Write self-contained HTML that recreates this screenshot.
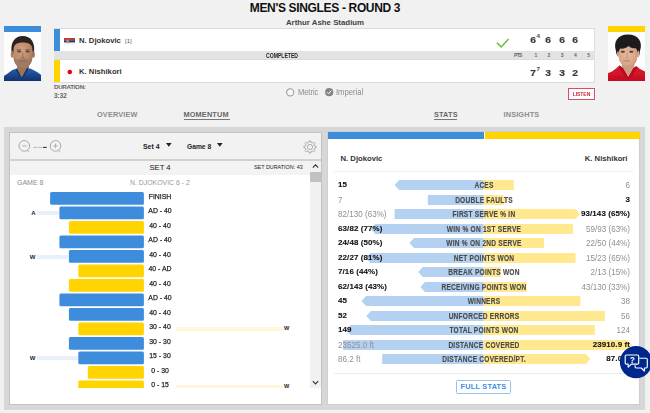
<!DOCTYPE html>
<html><head><meta charset="utf-8">
<style>
*{margin:0;padding:0;box-sizing:border-box}
html,body{width:650px;height:413px;overflow:hidden;background:#f1f1f1;font-family:"Liberation Sans",sans-serif;color:#222}
.a{position:absolute;white-space:nowrap;line-height:1}
.b{font-weight:bold}
#title{left:0;width:650px;top:2.4px;text-align:center;font-size:12px;font-weight:bold;color:#111;letter-spacing:-0.34px}
#venue{left:0;width:650px;top:19.1px;text-align:center;font-size:7.85px;font-weight:bold;color:#444}
.row{left:54px;width:541px;height:24px;background:#fff;border:1px solid #dcdcdc}
#mid{left:54px;width:541px;top:51px;height:9px;background:#e3e3e3}
.stripe{left:54px;width:6px}
.pname{font-size:7.7px;font-weight:bold;color:#333}
.sc{font-size:9.4px;font-weight:bold;color:#3c3c3c;width:14px;text-align:center;transform:scaleX(1.1);-webkit-text-stroke:.2px #3c3c3c}
.sup{font-size:6.2px;font-weight:bold;color:#444}
.hd{font-size:5px;color:#666;font-weight:bold;width:14px;text-align:center;top:52.5px}
.tab{font-size:7.3px;font-weight:bold;color:#8c8c8c;letter-spacing:.17px;top:111px}
.ul{height:1.5px;background:#777;top:118.5px}
#cont{left:4px;top:127px;width:641px;height:283px;background:#d7d7d7}
#lp{left:9px;top:132px;width:313px;height:273px;background:#fff;border:1px solid #c2c2c2;overflow:hidden}
#rp{left:327px;top:131px;width:313px;height:274px;background:#fff;border:1px solid #cfcfcf;overflow:hidden}
.lbl{font-size:8px;color:#222;width:40px;text-align:center;left:140px;transform:scaleX(.86);-webkit-text-stroke:.25px #222}
.mb{height:13px;border-radius:1.5px}
.blue{background:#3e8ddd}
.yel{background:#ffd400}
.sl{font-size:8.4px;font-weight:bold;color:#4a4a4a;text-align:center;width:160px;left:403.6px;transform:scaleX(.785);letter-spacing:.3px;-webkit-text-stroke:.15px #4a4a4a}
.v{font-size:8.4px;color:#909090;transform:scaleX(.965)}
.vb{font-size:7.9px;color:#111;font-weight:bold;letter-spacing:.1px;transform:scaleX(1.01);-webkit-text-stroke:.1px #111}
.sbl{fill:#b4d1f1}
.sye{fill:#ffe88e}
</style></head><body><div id="wrap" style="position:absolute;left:0;top:0;width:650px;height:413px">
<div class="a" id="title">MEN'S SINGLES - ROUND 3</div>
<div class="a" id="venue">Arthur Ashe Stadium</div>

<!-- left photo -->
<div class="a" style="left:4px;top:26px;width:37px;height:6px;background:#3e8ddd"></div>
<div class="a" id="ph1" style="left:4px;top:32px;width:37px;height:49px;background:#fff;overflow:hidden"><svg width="37" height="49" viewBox="0 0 37 49" style="display:block"><defs><filter id="f1" x="-10%" y="-10%" width="120%" height="120%"><feGaussianBlur stdDeviation=".65"/></filter>
<radialGradient id="g1" cx=".42" cy=".3" r=".75"><stop offset="0" stop-color="#d3a283"/><stop offset=".55" stop-color="#bd8a6a"/><stop offset="1" stop-color="#9a6d54"/></radialGradient>
<linearGradient id="s1" x1="0" y1="0" x2="0" y2="1"><stop offset="0" stop-color="#2a62b4"/><stop offset=".5" stop-color="#1b4890"/><stop offset="1" stop-color="#0f2d63"/></linearGradient></defs>
<rect width="37" height="49" fill="#fdfdfd"/>
<g filter="url(#f1)">
<path d="M-1 50V44.6L3 42L8.3 38L13 36.4L17.8 45.5L23 35.8L27.5 37L33 40L38 43.4V50Z" fill="url(#s1)"/>
<path d="M13 30H25V36.5L22 40L17.8 46L14.5 40L13 36.5Z" fill="#a17257"/>
<path d="M7.6 20.5C6.2 11 10.5 4 18.6 4C27 4 31.4 10.5 29.9 20.5L28.5 22H9.2Z" fill="#2a2320"/>
<ellipse cx="8.3" cy="22.4" rx="1.5" ry="3.3" fill="#b07c60"/><ellipse cx="29.3" cy="22.4" rx="1.5" ry="3.3" fill="#a06f55"/>
<path d="M9.5 17.5C9.5 12.5 13 10.6 18.9 10.6S28.4 12.5 28.4 17.5V25C28.4 32 23.5 36 18.9 36S9.5 32 9.5 25Z" fill="url(#g1)"/>
<path d="M9.6 24C10 32.4 14 36 18.9 36S27.9 32.4 28.3 24C27 28 25.6 28.6 23.4 27.4C21.5 26.6 16.5 26.6 14.4 27.4C12.4 28.6 10.8 28 9.6 24Z" fill="#9a7c68"/>
<path d="M14.4 29.4C16 28 21.6 28 23 29.4C21.6 30.2 16 30.2 14.4 29.4Z" fill="#9c6a5a"/>
<ellipse cx="15.2" cy="19.6" rx="2.2" ry="1" fill="#5c4436"/><ellipse cx="23.6" cy="19.6" rx="2.2" ry="1" fill="#5c4436"/>
<path d="M12.6 17.8H17.4M21.4 17.8H26.2" stroke="#6b4e3c" stroke-width=".8"/>
<path d="M18.6 20.5V25" stroke="#a97a5c" stroke-width="1.4"/>
<path d="M16.8 25.6H20.6" stroke="#8e604a" stroke-width=".8"/>
<path d="M13 36.4L17.8 45.5L23 35.8L24.6 37.6L17.9 48L11.4 37.8Z" fill="#143670"/>
</g></svg>
</div>
<!-- right photo -->
<div class="a" style="left:608px;top:26px;width:37px;height:6px;background:#ffd400"></div>
<div class="a" id="ph2" style="left:608px;top:32px;width:37px;height:49px;background:#fff;overflow:hidden"><svg width="37" height="49" viewBox="0 0 37 49" style="display:block"><defs><filter id="f2" x="-10%" y="-10%" width="120%" height="120%"><feGaussianBlur stdDeviation=".65"/></filter>
<radialGradient id="g2" cx=".45" cy=".45" r=".7"><stop offset="0" stop-color="#e6b99e"/><stop offset=".6" stop-color="#d9a88c"/><stop offset="1" stop-color="#bf8c72"/></radialGradient>
<linearGradient id="s2" x1="0" y1="0" x2="0" y2="1"><stop offset="0" stop-color="#e01a30"/><stop offset="1" stop-color="#c00c22"/></linearGradient></defs>
<rect width="37" height="49" fill="#fdfdfd"/>
<g filter="url(#f2)">
<path d="M-1 50V41.6L4 39.6L8 36.6L11.4 33.6L15 36L20.2 45L25.4 36L28.6 34.2L32 37L38 40V50Z" fill="url(#s2)"/>
<path d="M13.8 29H26.4V35L24 38L20.2 44.6L16 38L13.8 35Z" fill="#cc9b80"/>
<path d="M8 19C5 9.5 10 2.6 19.8 2.6C30.4 2.6 35 10 32 19C32 21.6 31.4 23.2 30.6 24H9.8C8.8 23 8 21.6 8 19Z" fill="#1d1a1b"/>
<ellipse cx="10.2" cy="22" rx="1.3" ry="3" fill="#cf9e82"/><ellipse cx="30" cy="21.8" rx="1.5" ry="3.4" fill="#d4a589"/>
<path d="M10.8 19C10.8 14 14 12 20 12S29.2 14 29.2 19V25C29.2 31 24.6 35.2 20 35.2S10.8 31 10.8 25Z" fill="url(#g2)"/>
<path d="M10.2 21C9.6 15 12 11 15 10H25.4C28.6 11 30.4 15 30 21C29.2 18.4 29 17.6 28 16.2C25.6 16.8 22.6 15.8 20.6 14C18 16.2 14.8 17 12.2 16.6C11.2 17.8 11 18.8 10.2 21Z" fill="#1d1a1b"/>
<ellipse cx="14.9" cy="19.7" rx="2.1" ry=".95" fill="#4f3c36"/><ellipse cx="23.3" cy="19.7" rx="2.1" ry=".95" fill="#4f3c36"/>
<path d="M19.2 20.6V25.6" stroke="#cb9a80" stroke-width="1.4"/>
<path d="M17.6 26H21" stroke="#b98970" stroke-width=".7"/>
<path d="M15.6 28.9H22" stroke="#bd7468" stroke-width="1"/>
<path d="M11.4 33.6L15 36L20.2 45L25.4 36L28.6 34.2L29.4 36L20.2 48.4L10.6 35.6Z" fill="#b30c20"/>
</g></svg>
</div>

<!-- score box -->
<div class="a row" style="top:28px"></div>
<div class="a" id="mid"></div>
<div class="a row" style="top:59px"></div>
<div class="a stripe" style="top:29px;height:22px;background:#3e8ddd"></div>
<div class="a stripe" style="top:60px;height:22px;background:#ffd400"></div>

<!-- flags -->
<svg class="a" style="left:64px;top:37.5px" width="11" height="7" viewBox="0 0 11 7"><rect width="11" height="2.4" fill="#c6363c"/><rect y="2.3" width="11" height="2.4" fill="#0c4076"/><rect y="4.6" width="11" height="2.4" fill="#f4f4f4"/><rect x="2.4" y="1.4" width="2.4" height="3.8" rx=".8" fill="#c98a6a"/></svg>
<svg class="a" style="left:64px;top:68px" width="11" height="7.5" viewBox="0 0 11 7.5"><rect width="11" height="7.5" fill="#fafafa"/><circle cx="5.8" cy="4" r="2.3" fill="#e60012"/></svg>

<div class="a pname" style="left:79px;top:36.5px">N. Djokovic</div>
<div class="a" style="left:125px;top:38.2px;font-size:6px;color:#555">[1]</div>
<div class="a pname" style="left:79px;top:67.5px">K. Nishikori</div>

<div class="a" style="left:262px;width:40px;text-align:center;top:52.6px;font-size:6.3px;font-weight:bold;color:#222;transform:scaleX(.81)">COMPLETED</div>
<div class="a" style="left:514px;top:52.5px;font-size:5px;font-weight:bold;color:#666;letter-spacing:-.65px">PTS</div>

<div class="a hd" style="left:528.8px">1</div>
<div class="a hd" style="left:542.0px">2</div>
<div class="a hd" style="left:555.2px">3</div>
<div class="a hd" style="left:568.4px">4</div>
<div class="a hd" style="left:581.6px">5</div>
<div class="a sc" style="left:526.0px;top:35.2px">6</div>
<div class="a sc" style="left:526.0px;top:68.3px">7</div>
<div class="a sc" style="left:541.4px;top:35.2px">6</div>
<div class="a sc" style="left:541.4px;top:68.3px">3</div>
<div class="a sc" style="left:554.5px;top:35.2px">6</div>
<div class="a sc" style="left:554.5px;top:68.3px">3</div>
<div class="a sc" style="left:567.7px;top:35.2px">6</div>
<div class="a sc" style="left:567.7px;top:68.3px">2</div>
<div class="a sup" style="left:536.6px;top:33.2px">4</div>
<div class="a sup" style="left:536.6px;top:66.3px">7</div>
<svg class="a" style="left:495px;top:37px" width="16" height="12" viewBox="0 0 16 12"><path d="M1.9 5.9 L6.3 9.9 L13.5 2.1" fill="none" stroke="#6bbf3f" stroke-width="1.5"/></svg>
<div class="a" style="left:54px;top:84px;font-size:6.2px;font-weight:bold;color:#666;letter-spacing:-.3px">DURATION:</div>
<div class="a" style="left:54px;top:92.5px;font-size:6.4px;font-weight:bold;color:#666">3:32</div>

<!-- metric/imperial -->
<svg class="a" style="left:285px;top:87px" width="10" height="10" viewBox="0 0 10 10"><circle cx="5.2" cy="5.3" r="3.6" fill="#f7f7f7" stroke="#999" stroke-width="1.05"/></svg>
<div class="a" style="left:297.6px;top:88.1px;font-size:8.3px;color:#8a8a8a;transform:scaleX(.9);transform-origin:0 50%">Metric</div>
<svg class="a" style="left:323.5px;top:87px" width="10" height="10" viewBox="0 0 10 10"><circle cx="5.2" cy="5.2" r="4.1" fill="#858585"/><path d="M3 5.3 L4.5 6.8 L7.2 3.7" fill="none" stroke="#fff" stroke-width="1"/></svg>
<div class="a" style="left:336px;top:88.1px;font-size:8.3px;color:#8a8a8a;transform:scaleX(.92);transform-origin:0 50%">Imperial</div>

<div class="a" style="left:568px;top:88px;width:27px;height:11.5px;border:1px solid #d94c63;background:#fff"></div>
<div class="a" style="left:568px;width:27px;text-align:center;top:91.6px;font-size:5.9px;font-weight:bold;color:#cf1f3c;letter-spacing:-.1px;transform:scaleX(.86)">LISTEN</div>

<!-- tabs -->
<div class="a tab" style="left:97px">OVERVIEW</div>
<div class="a tab" style="left:183.5px;color:#666">MOMENTUM</div>
<div class="a ul" style="left:183.5px;width:46px"></div>
<div class="a tab" style="left:434px;color:#666">STATS</div>
<div class="a ul" style="left:434px;width:23px"></div>
<div class="a tab" style="left:503.5px">INSIGHTS</div>

<div class="a" id="cont"></div>
<div class="a" id="lp"></div>
<div class="a" id="rp"></div>

<!-- LEFT PANEL contents (page coords) -->
<div class="a" style="left:10px;top:133px;width:311px;height:26px;background:#f2f2f2"></div>
<div class="a" style="left:10px;top:159px;width:311px;height:2px;background:#d2d2d2"></div>
<div class="a" style="left:10px;top:161px;width:300px;height:14px;background:#f3f3f3"></div>
<!-- zoom icons -->
<svg class="a" style="left:16px;top:138px" width="50" height="18" viewBox="0 0 50 18">
<g fill="none" stroke="#8b98a5" stroke-width=".8"><circle cx="8.3" cy="7.9" r="5.3"/><path d="M11.4 12.4 L13 13.9"/><circle cx="39.5" cy="7.9" r="5.3"/><path d="M42.6 12.4 L44.2 13.9"/></g>
<g stroke="#a8a8a8" stroke-width=".9"><path d="M6 7.9 H10.6"/><path d="M37.2 7.9 H41.8 M39.5 5.6 V10.2"/></g>
<path d="M17.4 9.4 H21.2" stroke="#b4b4b4" stroke-width="1"/><path d="M22.2 9.4 H26" stroke="#b4b4b4" stroke-width="1"/><path d="M26.9 9.4 H30.7" stroke="#333" stroke-width="1.1"/>
</svg>
<div class="a b" style="left:143px;top:143.5px;font-size:6.9px;color:#222">Set 4</div>
<svg class="a" style="left:166px;top:143.3px" width="6" height="4" viewBox="0 0 6 4"><path d="M0 0H5.6L2.8 3.8Z" fill="#222"/></svg>
<div class="a b" style="left:187px;top:143.5px;font-size:6.7px;color:#222">Game 8</div>
<svg class="a" style="left:217.3px;top:143.3px" width="6" height="4" viewBox="0 0 6 4"><path d="M0 0H5.6L2.8 3.8Z" fill="#222"/></svg>
<!-- gear -->
<svg class="a" style="left:302px;top:139px" width="16" height="16" viewBox="-8 -8 16 16"><g fill="none" stroke="#999" stroke-width=".8">
<path d="M4.57 -1.10 L6.05 -0.81 L6.05 0.81 L4.57 1.10 L4.01 2.46 L4.85 3.70 L3.70 4.85 L2.46 4.01 L1.10 4.57 L0.81 6.05 L-0.81 6.05 L-1.10 4.57 L-2.46 4.01 L-3.70 4.85 L-4.85 3.70 L-4.01 2.46 L-4.57 1.10 L-6.05 0.81 L-6.05 -0.81 L-4.57 -1.10 L-4.01 -2.46 L-4.85 -3.70 L-3.70 -4.85 L-2.46 -4.01 L-1.10 -4.57 L-0.81 -6.05 L0.81 -6.05 L1.10 -4.57 L2.46 -4.01 L3.70 -4.85 L4.85 -3.70 L4.01 -2.46Z" stroke-linejoin="round"/><circle r="2.6"/></g></svg>

<div class="a" style="left:140px;width:40px;text-align:center;top:163.7px;font-size:7.7px;color:#111">SET 4</div>
<div class="a" style="left:254px;top:165px;font-size:5.4px;color:#222">SET DURATION: 43</div>
<div class="a" style="left:17px;top:179.2px;font-size:7px;color:#8c8c8c">GAME 8</div>
<div class="a" style="left:130px;top:179.5px;font-size:6.9px;color:#999">N. DJOKOVIC 6 - 2</div>
<!-- scrollbar -->
<div class="a" style="left:310px;top:161px;width:11px;height:227px;background:#f1f1f1"></div>
<div class="a" style="left:310px;top:172px;width:11px;height:10px;background:#c1c1c1"></div>
<svg class="a" style="left:310px;top:161px" width="11" height="11" viewBox="0 0 11 11"><path d="M2.8 6.6 L5.5 3.8 L8.2 6.6" fill="none" stroke="#333" stroke-width="1.1"/></svg>
<svg class="a" style="left:310px;top:377px" width="11" height="11" viewBox="0 0 11 11"><path d="M2.8 4.2 L5.5 7 L8.2 4.2" fill="none" stroke="#333" stroke-width="1.1"/></svg>
<div class="a" id="mw" style="left:10px;top:161px;width:300px;height:227px;overflow:hidden">

<svg class="a" style="left:0;top:30px" width="150" height="15" viewBox="0 0 150 15"><rect x="40.1" y="0.90" width="93.8" height="12.8" rx="1.5" fill="#3e8ddd"/></svg>
<div class="a lbl" style="left:130px;top:32.00px">FINISH</div>
<svg class="a" style="left:0;top:45px" width="150" height="15" viewBox="0 0 150 15"><rect x="49.4" y="0.41" width="84.5" height="12.8" rx="1.5" fill="#3e8ddd"/></svg>
<div class="a lbl" style="left:130px;top:46.00px">AD - 40</div>
<div class="a" style="left:27.3px;top:49.90px;width:22.1px;height:4px;background:#e8f0fa"></div>
<div class="a b" style="left:15.5px;width:10px;text-align:right;top:49.30px;font-size:6px;color:#222">A</div>
<svg class="a" style="left:0;top:59px" width="150" height="15" viewBox="0 0 150 15"><rect x="58.9" y="0.92" width="75.0" height="12.8" rx="1.5" fill="#ffd400"/></svg>
<div class="a lbl" style="left:130px;top:61.00px">40 - 40</div>
<svg class="a" style="left:0;top:74px" width="150" height="15" viewBox="0 0 150 15"><rect x="49.4" y="0.43" width="84.5" height="12.8" rx="1.5" fill="#3e8ddd"/></svg>
<div class="a lbl" style="left:130px;top:75.00px">AD - 40</div>
<svg class="a" style="left:0;top:88px" width="150" height="15" viewBox="0 0 150 15"><rect x="58.9" y="0.94" width="75.0" height="12.8" rx="1.5" fill="#3e8ddd"/></svg>
<div class="a lbl" style="left:130px;top:90.00px">40 - 40</div>
<div class="a" style="left:27.3px;top:93.90px;width:31.6px;height:4px;background:#e8f0fa"></div>
<div class="a b" style="left:15.5px;width:10px;text-align:right;top:93.30px;font-size:6px;color:#222">W</div>
<svg class="a" style="left:0;top:103px" width="150" height="15" viewBox="0 0 150 15"><rect x="68.3" y="0.45" width="65.6" height="12.8" rx="1.5" fill="#ffd400"/></svg>
<div class="a lbl" style="left:130px;top:104.00px">40 - AD</div>
<svg class="a" style="left:0;top:117px" width="150" height="15" viewBox="0 0 150 15"><rect x="58.9" y="0.96" width="75.0" height="12.8" rx="1.5" fill="#ffd400"/></svg>
<div class="a lbl" style="left:130px;top:119.00px">40 - 40</div>
<svg class="a" style="left:0;top:132px" width="150" height="15" viewBox="0 0 150 15"><rect x="49.4" y="0.47" width="84.5" height="12.8" rx="1.5" fill="#3e8ddd"/></svg>
<div class="a lbl" style="left:130px;top:133.00px">AD - 40</div>
<svg class="a" style="left:0;top:146px" width="150" height="15" viewBox="0 0 150 15"><rect x="58.9" y="0.98" width="75.0" height="12.8" rx="1.5" fill="#3e8ddd"/></svg>
<div class="a lbl" style="left:130px;top:148.00px">40 - 40</div>
<svg class="a" style="left:0;top:161px" width="150" height="15" viewBox="0 0 150 15"><rect x="68.3" y="0.49" width="65.6" height="12.8" rx="1.5" fill="#ffd400"/></svg>
<div class="a lbl" style="left:130px;top:162.00px">30 - 40</div>
<div class="a" style="left:166px;top:165.90px;width:106.5px;height:4px;background:#fff6d9"></div>
<div class="a b" style="left:274px;top:165.20px;font-size:5.6px;color:#222">W</div>
<svg class="a" style="left:0;top:176px" width="150" height="15" viewBox="0 0 150 15"><rect x="58.9" y="0.00" width="75.0" height="12.8" rx="1.5" fill="#3e8ddd"/></svg>
<div class="a lbl" style="left:130px;top:177.00px">30 - 30</div>
<svg class="a" style="left:0;top:190px" width="150" height="15" viewBox="0 0 150 15"><rect x="68.3" y="0.51" width="65.6" height="12.8" rx="1.5" fill="#3e8ddd"/></svg>
<div class="a lbl" style="left:130px;top:191.00px">15 - 30</div>
<div class="a" style="left:27.3px;top:194.90px;width:41.0px;height:4px;background:#e8f0fa"></div>
<div class="a b" style="left:15.5px;width:10px;text-align:right;top:194.30px;font-size:6px;color:#222">W</div>
<svg class="a" style="left:0;top:205px" width="150" height="15" viewBox="0 0 150 15"><rect x="77.8" y="0.02" width="56.1" height="12.8" rx="1.5" fill="#ffd400"/></svg>
<div class="a lbl" style="left:130px;top:206.00px">0 - 30</div>
<svg class="a" style="left:0;top:219px" width="150" height="15" viewBox="0 0 150 15"><rect x="68.3" y="0.53" width="65.6" height="12.8" rx="1.5" fill="#ffd400"/></svg>
<div class="a lbl" style="left:130px;top:220.00px">0 - 15</div>
<div class="a" style="left:166px;top:223.90px;width:106.5px;height:4px;background:#fff6d9"></div>
<div class="a b" style="left:274px;top:223.20px;font-size:5.6px;color:#222">W</div>
</div>

<div class="a" style="left:328px;top:132px;width:155.5px;height:7px;background:#3e8ddd"></div>
<div class="a" style="left:484.5px;top:132px;width:155px;height:7px;background:#ffd400"></div>
<div class="a pname" style="left:340.5px;top:154.5px">N. Djokovic</div>
<div class="a pname" style="left:540px;width:87.5px;text-align:right;top:154.5px">K. Nishikori</div>
<div class="a" style="left:334px;top:171px;width:299px;height:1px;background:#f0f0f0"></div>
<div class="a" style="left:334px;top:373px;width:299px;height:1px;background:#ececec"></div>
<div class="a" style="left:456px;top:380px;width:55px;height:14px;border:1px solid #96c0ee;border-radius:1.5px;background:#fff"></div>
<div class="a" style="left:456px;top:383px;width:55px;text-align:center;font-size:7.3px;font-weight:bold;color:#3e8ddd;letter-spacing:.25px">FULL STATS</div>

<svg class="a" style="left:328px;top:172px" width="312" height="200" viewBox="328 172 312 200">
<path class="sbl" d="M483.6 180.00H399.2L394.6 185.00L399.2 190.00H483.6Z"/>
<path class="sye" d="M483.6 180.00H513.8V190.00H483.6Z"/>
<path class="sbl" d="M483.6 195.00H427.8V205.00H483.6Z"/>
<path class="sye" d="M483.6 195.00H503.0L507.6 200.00L503.0 205.00H483.6Z"/>
<path class="sbl" d="M483.6 209.00H394.6V219.00H483.6Z"/>
<path class="sye" d="M483.6 209.00H575.4L580.0 214.00L575.4 219.00H483.6Z"/>
<path class="sbl" d="M483.6 224.00H375.4L370.8 229.00L375.4 234.00H483.6Z"/>
<path class="sye" d="M483.6 224.00H573.0V234.00H483.6Z"/>
<path class="sbl" d="M483.6 238.00H414.0L409.4 243.00L414.0 248.00H483.6Z"/>
<path class="sye" d="M483.6 238.00H544.0V248.00H483.6Z"/>
<path class="sbl" d="M483.6 253.00H370.4L365.8 258.00L370.4 263.00H483.6Z"/>
<path class="sye" d="M483.6 253.00H575.5V263.00H483.6Z"/>
<path class="sbl" d="M483.6 267.00H422.8L418.2 272.00L422.8 277.00H483.6Z"/>
<path class="sye" d="M483.6 267.00H500.9V277.00H483.6Z"/>
<path class="sbl" d="M483.6 282.00H425.0L420.4 287.00L425.0 292.00H483.6Z"/>
<path class="sye" d="M483.6 282.00H526.7V292.00H483.6Z"/>
<path class="sbl" d="M483.6 296.00H366.1L361.5 301.00L366.1 306.00H483.6Z"/>
<path class="sye" d="M483.6 296.00H580.3V306.00H483.6Z"/>
<path class="sbl" d="M483.6 311.00H370.9L366.3 316.00L370.9 321.00H483.6Z"/>
<path class="sye" d="M483.6 311.00H604.9V321.00H483.6Z"/>
<path class="sbl" d="M483.6 325.00H350.6L346.0 330.00L350.6 335.00H483.6Z"/>
<path class="sye" d="M483.6 325.00H594.8V335.00H483.6Z"/>
<path class="sbl" d="M483.6 340.00H343.1V350.00H483.6Z"/>
<path class="sye" d="M483.6 340.00H627.4L632.0 345.00L627.4 350.00H483.6Z"/>
<path class="sbl" d="M483.6 354.00H382.2V364.00H483.6Z"/>
<path class="sye" d="M483.6 354.00H585.7L590.3 359.00L585.7 364.00H483.6Z"/>
</svg>
<div class="a sl" style="top:181.10px">ACES</div>
<div class="a vb" style="left:337.5px;transform-origin:0 50%;top:180.95px">15</div>
<div class="a v" style="left:530px;width:100px;text-align:right;transform-origin:100% 50%;top:180.95px;">6</div>
<div class="a sl" style="top:196.10px">DOUBLE FAULTS</div>
<div class="a v" style="left:337.5px;transform-origin:0 50%;top:195.95px">7</div>
<div class="a vb" style="left:530px;width:100px;text-align:right;transform-origin:100% 50%;top:195.95px;margin-left:.3px">3</div>
<div class="a sl" style="top:210.10px">FIRST SERVE % IN</div>
<div class="a v" style="left:337.5px;transform-origin:0 50%;top:209.95px">82/130 (63%)</div>
<div class="a vb" style="left:530px;width:100px;text-align:right;transform-origin:100% 50%;top:209.95px;margin-left:.3px">93/143 (65%)</div>
<div class="a sl" style="top:225.10px">WIN % ON 1ST SERVE</div>
<div class="a vb" style="left:337.5px;transform-origin:0 50%;top:224.95px">63/82 (77%)</div>
<div class="a v" style="left:530px;width:100px;text-align:right;transform-origin:100% 50%;top:224.95px;">59/93 (63%)</div>
<div class="a sl" style="top:239.10px">WIN % ON 2ND SERVE</div>
<div class="a vb" style="left:337.5px;transform-origin:0 50%;top:238.95px">24/48 (50%)</div>
<div class="a v" style="left:530px;width:100px;text-align:right;transform-origin:100% 50%;top:238.95px;">22/50 (44%)</div>
<div class="a sl" style="top:254.10px">NET POINTS WON</div>
<div class="a vb" style="left:337.5px;transform-origin:0 50%;top:253.95px">22/27 (81%)</div>
<div class="a v" style="left:530px;width:100px;text-align:right;transform-origin:100% 50%;top:253.95px;">15/23 (65%)</div>
<div class="a sl" style="top:268.10px">BREAK POINTS WON</div>
<div class="a vb" style="left:337.5px;transform-origin:0 50%;top:267.95px">7/16 (44%)</div>
<div class="a v" style="left:530px;width:100px;text-align:right;transform-origin:100% 50%;top:267.95px;">2/13 (15%)</div>
<div class="a sl" style="top:283.10px">RECEIVING POINTS WON</div>
<div class="a vb" style="left:337.5px;transform-origin:0 50%;top:282.95px">62/143 (43%)</div>
<div class="a v" style="left:530px;width:100px;text-align:right;transform-origin:100% 50%;top:282.95px;">43/130 (33%)</div>
<div class="a sl" style="top:297.10px">WINNERS</div>
<div class="a vb" style="left:337.5px;transform-origin:0 50%;top:296.95px">45</div>
<div class="a v" style="left:530px;width:100px;text-align:right;transform-origin:100% 50%;top:296.95px;">38</div>
<div class="a sl" style="top:312.10px">UNFORCED ERRORS</div>
<div class="a vb" style="left:337.5px;transform-origin:0 50%;top:311.95px">52</div>
<div class="a v" style="left:530px;width:100px;text-align:right;transform-origin:100% 50%;top:311.95px;">56</div>
<div class="a sl" style="top:326.10px">TOTAL POINTS WON</div>
<div class="a vb" style="left:337.5px;transform-origin:0 50%;top:325.95px">149</div>
<div class="a v" style="left:530px;width:100px;text-align:right;transform-origin:100% 50%;top:325.95px;">124</div>
<div class="a sl" style="top:341.10px">DISTANCE COVERED</div>
<div class="a v" style="left:337.5px;transform-origin:0 50%;top:340.95px">23525.0 ft</div>
<div class="a vb" style="left:530px;width:100px;text-align:right;transform-origin:100% 50%;top:340.95px;margin-left:.3px">23910.9 ft</div>
<div class="a sl" style="top:355.10px">DISTANCE COVERED/PT.</div>
<div class="a v" style="left:337.5px;transform-origin:0 50%;top:354.95px">86.2 ft</div>
<div class="a vb" style="left:530px;width:100px;text-align:right;transform-origin:100% 50%;top:354.95px;margin-left:.3px">87.0 ft</div>

<svg class="a" style="left:618px;top:344px" width="36" height="36" viewBox="0 0 36 36">
<circle cx="18" cy="18.05" r="16.15" fill="#00288c"/>
<g fill="none" stroke="#fff" stroke-width="1.15" stroke-linejoin="round">
<path d="M8.4 11 H19.5 Q20.7 11 20.7 12.2 V18.9 Q20.7 20.1 19.5 20.1 H13.4 L10.2 23.2 V20.1 H8.4 Q7.2 20.1 7.2 18.9 V12.2 Q7.2 11 8.4 11Z"/>
<path d="M21.3 14.2 H28.1 Q29.3 14.2 29.3 15.4 V22.8 Q29.3 24 28.1 24 H26.4 V27.1 L23.2 24 H18.3 Q17.1 24 17.1 22.8 V21.2"/>
</g>
<text x="14.3" y="19" font-family="Liberation Sans" font-weight="bold" font-size="8.2" fill="#fff" text-anchor="middle">?</text>
</svg>
</div></body></html>
